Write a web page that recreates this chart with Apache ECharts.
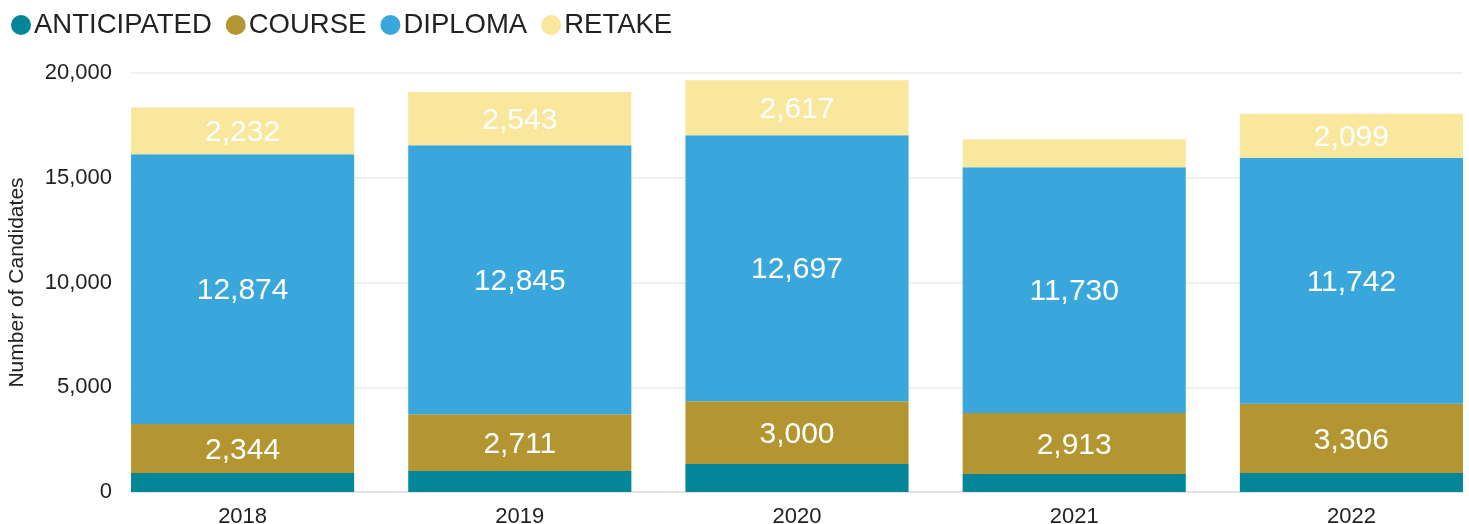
<!DOCTYPE html>
<html>
<head>
<meta charset="utf-8">
<script src="https://cdn.jsdelivr.net/npm/echarts@6/dist/echarts.min.js"></script>
<style>
  html, body { margin: 0; padding: 0; background: #fff; }
  #chart { width: 1469px; height: 524px; }
</style>
</head>
<body>
<div id="chart"></div>
<script>
// data
const years = ['2018', '2019', '2020', '2021', '2022']
const anticipated = [906, 1000, 1336, 860, 906]
const course = [2344, 2711, 3000, 2913, 3306]
const diploma = [12874, 12845, 12697, 11730, 11742]
const retake = [2232, 2543, 2617, 1336, 2099]
const yTicks = [0, 5000, 10000, 15000, 20000]

const font = 'Liberation Sans, Arial, sans-serif'
const fmt = v => v.toLocaleString('en-US')

const chart = echarts.init(document.getElementById('chart'))

// only the bigger segments carry a value label
const mkSeries = (name, data, color) => ({
  name: name,
  type: 'bar',
  stack: 'total',
  xAxisIndex: 0,
  yAxisIndex: 0,
  barCategoryGap: '19.5%',
  data: data,
  itemStyle: { color: color },
  label: {
    show: true,
    position: 'inside',
    offset: [0, 2],
    color: '#fff',
    fontSize: 30,
    fontFamily: font,
    formatter: p => (p.value >= 2000 ? fmt(p.value) : '')
  }
})

const option = {
  animation: false,
  legend: {
    left: 6,
    top: 6,
    icon: 'circle',
    itemWidth: 20,
    itemHeight: 20,
    itemGap: 14,
    textStyle: { fontSize: 27.5, fontFamily: font, color: '#222', padding: [0, 0, 0, -2] },
    data: ['ANTICIPATED', 'COURSE', 'DIPLOMA', 'RETAKE']
  },
  grid: [
    { left: 104, width: 1386, top: 73, bottom: 32, outerBoundsMode: 'none' },
    { left: 131, right: 7, top: 73, bottom: 32, outerBoundsMode: 'none' }
  ],
  xAxis: [
    {
      type: 'category',
      gridIndex: 0,
      data: years,
      axisLine: { show: false },
      axisTick: { show: false },
      axisLabel: { fontSize: 22, fontFamily: font, color: '#222', margin: 14 }
    },
    {
      type: 'category',
      gridIndex: 1,
      data: [''],
      axisLine: { lineStyle: { color: '#e3e3e3', width: 2 } },
      axisTick: { show: false },
      axisLabel: { show: false }
    }
  ],
  yAxis: [
    {
      type: 'value',
      gridIndex: 0,
      min: 0,
      max: 20000,
      show: false
    },
    {
      type: 'value',
      gridIndex: 1,
      min: yTicks[0],
      max: yTicks[yTicks.length - 1],
      interval: 5000,
      name: 'Number of Candidates',
      nameLocation: 'middle',
      nameGap: 103,
      nameTextStyle: { fontSize: 21, fontFamily: font, color: '#222' },
      axisLine: { show: false },
      axisTick: { show: false },
      axisLabel: { fontSize: 22, fontFamily: font, color: '#222', margin: 19, formatter: v => fmt(v) },
      splitLine: { lineStyle: { color: '#ebebeb', width: 1.5 } }
    }
  ],
  series: [
    mkSeries('ANTICIPATED', anticipated, '#038698'),
    mkSeries('COURSE', course, '#b39531'),
    mkSeries('DIPLOMA', diploma, '#39a6dc'),
    mkSeries('RETAKE', retake, '#f8e79c')
  ]
}

chart.setOption(option)
</script>
</body>
</html>
